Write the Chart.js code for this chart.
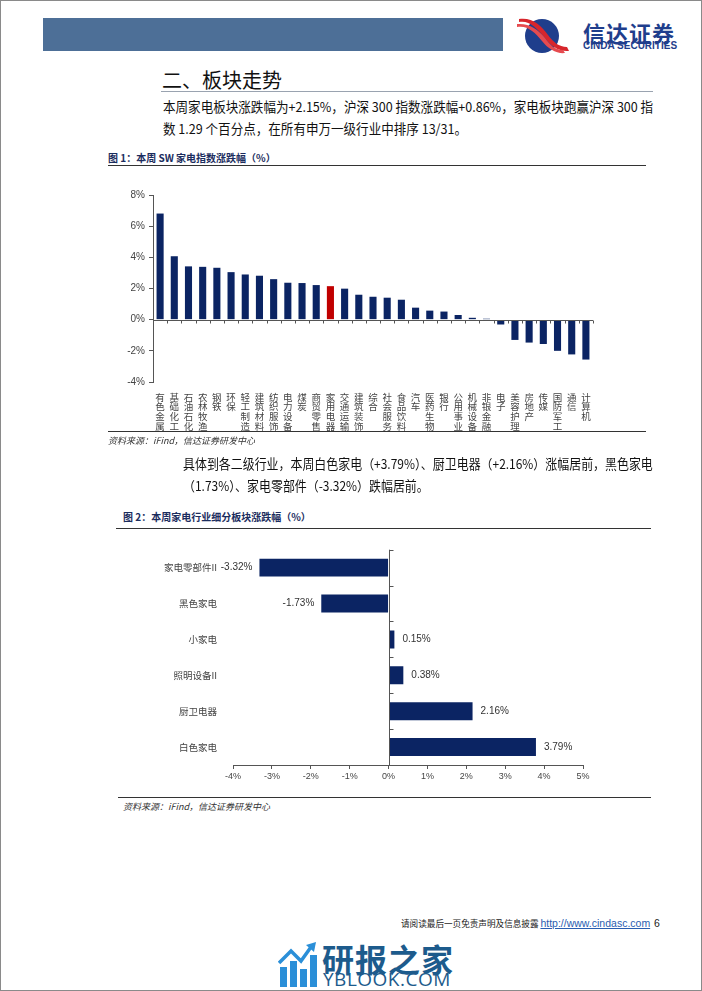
<!DOCTYPE html>
<html>
<head>
<meta charset="utf-8">
<script src="https://cdn.jsdelivr.net/npm/chart.js@4.4.0/dist/chart.umd.min.js"></script>
<style>
  body { margin: 0; background: #fff; font-family: "Noto Sans CJK SC", sans-serif; }
  #page { position: relative; width: 700px; height: 989px; border: 1px solid #8a8a8a; overflow: hidden; }
  .abs { position: absolute; white-space: nowrap; }
  .hline { position: absolute; height: 0; }
  .para { font-size: 13.2px; color: #111; transform-origin: 0 0; }
  .ftitle { font-size: 10px; font-weight: bold; color: #1b2d5e; }
  .src { font-size: 9px; font-style: italic; color: #333; }
</style>
</head>
<body>
<div id="page">
  <!-- header -->
  <div class="abs" style="left:42px;top:17px;width:460px;height:33px;background:#4d6f97;"></div>
  <svg class="abs" style="left:514px;top:17px;" width="56" height="36" viewBox="0 0 56 36">
    <circle cx="27" cy="18" r="17" fill="#1f3e8c"/>
    <path d="M4 4 C14 2 22 10 30 20 C36 28 44 34 54 33 L52 29 C44 29 38 24 33 17 C26 7 17 -1 4 1 Z" fill="#d7262c"/>
    <path d="M2 9 C12 7 20 14 27 23 C33 31 42 36 50 35 L48 32 C40 32 35 27 30 20 C23 11 14 5 2 6 Z" fill="#e64b4f"/>
  </svg>
  <div class="abs" style="left:582px;top:15px;font-size:22px;font-weight:bold;color:#1f3e8c;letter-spacing:1px;">信达证券</div>
  <div class="abs" style="left:582px;top:39px;font-size:10px;font-weight:bold;color:#1f3e8c;font-family:'Liberation Sans',Arial,sans-serif;">CINDA SECURITIES</div>

  <!-- section heading -->
  <div class="abs" style="left:161px;top:64px;font-size:20px;color:#111;">二、板块走势</div>
  <div class="hline" style="left:160px;top:90px;width:492px;border-top:1px solid #9aa3b0;"></div>
  <div class="abs para fit" data-w="490" style="left:162px;top:96px;">本周家电板块涨跌幅为+2.15%，沪深 300 指数涨跌幅+0.86%，家电板块跑赢沪深 300 指</div>
  <div class="abs para fit" data-w="490" data-same="1" style="left:162px;top:118px;">数 1.29 个百分点，在所有申万一级行业中排序 13/31。</div>

  <!-- figure 1 -->
  <div class="abs ftitle" style="left:107px;top:149px;">图 1：本周 SW 家电指数涨跌幅（%）</div>
  <div class="hline" style="left:107px;top:164px;width:538px;border-top:1.5px solid #333;"></div>
  <div class="abs" style="left:100px;top:180px;width:500px;height:258px;"><canvas id="c1"></canvas></div>
  <div class="hline" style="left:107px;top:430px;width:538px;border-top:1.5px solid #333;"></div>
  <div class="abs src" style="left:107px;top:433px;background:#fff;">资料来源：iFind，信达证券研发中心</div>

  <div class="abs para fit" data-w="470" style="left:182px;top:453px;">具体到各二级行业，本周白色家电（+3.79%）、厨卫电器（+2.16%）涨幅居前，黑色家电</div>
  <div class="abs para fit" data-w="470" data-same="1" style="left:182px;top:475px;">（1.73%）、家电零部件（-3.32%）跌幅居前。</div>

  <!-- figure 2 -->
  <div class="abs ftitle" style="left:122px;top:508px;">图 2：本周家电行业细分板块涨跌幅（%）</div>
  <div class="hline" style="left:115px;top:527px;width:535px;border-top:1.5px solid #333;"></div>
  <div class="abs" style="left:100px;top:535px;width:500px;height:255px;"><canvas id="c2"></canvas></div>
  <div class="hline" style="left:117px;top:796px;width:533px;border-top:1.5px solid #333;"></div>
  <div class="abs src" style="left:122px;top:799px;">资料来源：iFind，信达证券研发中心</div>

  <!-- footer -->
  <div class="abs" style="left:400px;top:916px;font-size:8.6px;color:#222;">请阅读最后一页免责声明及信息披露 <span style="color:#2a5db0;text-decoration:underline;font-family:'Liberation Sans',Arial,sans-serif;font-size:10.5px;">http://www.cindasc.com</span>&nbsp;&nbsp;<span style="font-family:'Liberation Sans',Arial,sans-serif;font-size:10.5px;">6</span></div>

  <!-- watermark -->
  <svg class="abs" style="left:277px;top:940px;" width="40" height="46" viewBox="0 0 40 46">
    <rect x="2" y="26" width="7" height="20" fill="#2b8fd8"/>
    <rect x="12" y="20" width="7" height="26" fill="#2b8fd8"/>
    <rect x="22" y="28" width="7" height="18" fill="#2b8fd8"/>
    <rect x="32" y="14" width="7" height="32" fill="#2b8fd8"/>
    <path d="M1 22 L13 10 L23 20 L33 6" stroke="#2b8fd8" stroke-width="3.5" fill="none"/>
    <path d="M28 4 L38 1 L36 11 Z" fill="#2b8fd8"/>
  </svg>
  <div class="abs" style="left:321px;top:934px;font-size:32px;font-weight:bold;color:#1d5b8c;letter-spacing:1px;">研报之家</div>
  <div class="abs" style="left:322px;top:965px;font-size:19px;color:#1d5b8c;font-family:'Open Sans',sans-serif;letter-spacing:0.5px;">YBLOOK.COM</div>
</div>

<script>
// squeeze the paragraph lines to the reference line width
let lastScale = 1;
document.querySelectorAll(".fit").forEach(el => {
  const s = el.dataset.same ? lastScale : Math.min(1, (+el.dataset.w) / el.scrollWidth);
  el.style.transform = "scaleX(" + s + ")";
  lastScale = s;
});

// 图1 申万一级行业周涨跌幅
const industries = ["有色金属","基础化工","石油石化","农林牧渔","钢铁","环保","轻工制造","建筑材料","纺织服饰","电力设备","煤炭","商贸零售","家用电器","交通运输","建筑装饰","综合","社会服务","食品饮料","汽车","医药生物","银行","公用事业","机械设备","非银金融","电子","美容护理","房地产","传媒","国防军工","通信","计算机"];
const industryChg = [6.81, 4.07, 3.42, 3.39, 3.33, 3.05, 2.90, 2.82, 2.60, 2.37, 2.35, 2.22, 2.15, 1.99, 1.60, 1.47, 1.41, 1.28, 0.77, 0.58, 0.52, 0.30, 0.12, 0.06, -0.31, -1.30, -1.47, -1.56, -2.00, -2.23, -2.56];
const highlight = "家用电器";
const yTicks1 = [-4, -2, 0, 2, 4, 6, 8];

// 图2 家电二级行业周涨跌幅
const subSectors = ["家电零部件II", "黑色家电", "小家电", "照明设备II", "厨卫电器", "白色家电"];
const subChg = [-3.32, -1.73, 0.15, 0.38, 2.16, 3.79];

const navy = "#0b2463";
const axisGrey = "#555";
const tickFont = { family: "'Liberation Sans', Arial, sans-serif", size: 10 };

// zero line + small category ticks on it
const zeroLine1 = {
  id: "zeroLine1",
  afterDatasetsDraw(chart) {
    const { ctx, chartArea, scales: { y } } = chart;
    const y0 = Math.round(y.getPixelForValue(0)) + 0.5;
    ctx.save();
    ctx.strokeStyle = axisGrey;
    ctx.lineWidth = 1;
    ctx.beginPath();
    ctx.moveTo(chartArea.left, y0);
    ctx.lineTo(chartArea.right, y0);
    const step = (chartArea.right - chartArea.left) / industries.length;
    for (let i = 1; i <= industries.length; i++) {
      const px = Math.round(chartArea.left + i * step) + 0.5;
      ctx.moveTo(px, y0);
      ctx.lineTo(px, y0 + 3);
    }
    ctx.stroke();
    ctx.restore();
  }
};

new Chart(document.getElementById("c1"), {
  type: "bar",
  plugins: [zeroLine1],
  data: {
    labels: industries.map(s => s.split("")),
    datasets: [{
      data: industryChg,
      backgroundColor: industries.map(s => s === highlight ? "#c00000" : navy),
      barPercentage: 0.5,
      categoryPercentage: 1.0
    }]
  },
  options: {
    responsive: true,
    maintainAspectRatio: false,
    animation: false,
    layout: { padding: { top: 14, right: 8, left: 0, bottom: 0 } },
    plugins: { legend: { display: false }, tooltip: { enabled: false } },
    scales: {
      x: {
        grid: { display: false },
        border: { display: false },
        ticks: {
          maxRotation: 0, minRotation: 0, autoSkip: false, padding: 2,
          color: "#444",
          font: { family: "'Noto Sans CJK SC', sans-serif", size: 9.5, lineHeight: 1.03 }
        },
        afterFit(scale) { scale.height = 57; }
      },
      y: {
        min: -4, max: 8,
        afterBuildTicks(scale) { scale.ticks = yTicks1.map(v => ({ value: v })); },
        grid: { drawOnChartArea: false, drawTicks: true, tickLength: 4, color: axisGrey },
        border: { display: true, color: axisGrey, width: 1 },
        ticks: { color: "#444", font: tickFont, padding: 4, callback: v => v + "%" },
        afterFit(scale) { scale.width = 52; }
      }
    }
  }
});

// vertical zero axis with ticks + value labels
const barExtras2 = {
  id: "barExtras2",
  afterDatasetsDraw(chart) {
    const { ctx, chartArea, scales: { x } } = chart;
    const x0 = Math.round(x.getPixelForValue(0)) + 0.5;
    ctx.save();
    ctx.strokeStyle = axisGrey;
    ctx.lineWidth = 1;
    ctx.beginPath();
    ctx.moveTo(x0, chartArea.top);
    ctx.lineTo(x0, chartArea.bottom);
    const step = (chartArea.bottom - chartArea.top) / subSectors.length;
    for (let i = 0; i < subSectors.length; i++) {
      const py = Math.round(chartArea.top + i * step) + 0.5;
      ctx.moveTo(x0, py);
      ctx.lineTo(x0 + 4, py);
    }
    ctx.stroke();
    ctx.fillStyle = "#333";
    ctx.font = "10px 'Liberation Sans', Arial, sans-serif";
    ctx.textBaseline = "middle";
    chart.getDatasetMeta(0).data.forEach((bar, i) => {
      const v = subChg[i];
      const txt = v.toFixed(2) + "%";
      if (v < 0) { ctx.textAlign = "right"; ctx.fillText(txt, bar.x - 7, bar.y); }
      else { ctx.textAlign = "left"; ctx.fillText(txt, bar.x + 8, bar.y); }
    });
    ctx.restore();
  }
};

new Chart(document.getElementById("c2"), {
  type: "bar",
  plugins: [barExtras2],
  data: {
    labels: subSectors,
    datasets: [{
      data: subChg,
      backgroundColor: navy,
      barPercentage: 0.5,
      categoryPercentage: 1.0
    }]
  },
  options: {
    indexAxis: "y",
    responsive: true,
    maintainAspectRatio: false,
    animation: false,
    layout: { padding: { top: 7, right: 18, left: 0, bottom: 0 } },
    plugins: { legend: { display: false }, tooltip: { enabled: false } },
    scales: {
      x: {
        min: -4, max: 5,
        ticks: { stepSize: 1, color: "#444", font: { family: "'Liberation Sans', Arial, sans-serif", size: 9 }, padding: 2, callback: v => v + "%" },
        grid: { drawOnChartArea: false, drawTicks: true, tickLength: 4, color: axisGrey },
        border: { display: true, color: axisGrey, width: 1 },
        afterFit(scale) { scale.height = 26; }
      },
      y: {
        grid: { display: false },
        border: { display: false },
        ticks: { color: "#444", padding: 8, font: { family: "'Noto Sans CJK SC', sans-serif", size: 9.5 } },
        afterFit(scale) { scale.width = 132; }
      }
    }
  }
});
</script>
</body>
</html>
